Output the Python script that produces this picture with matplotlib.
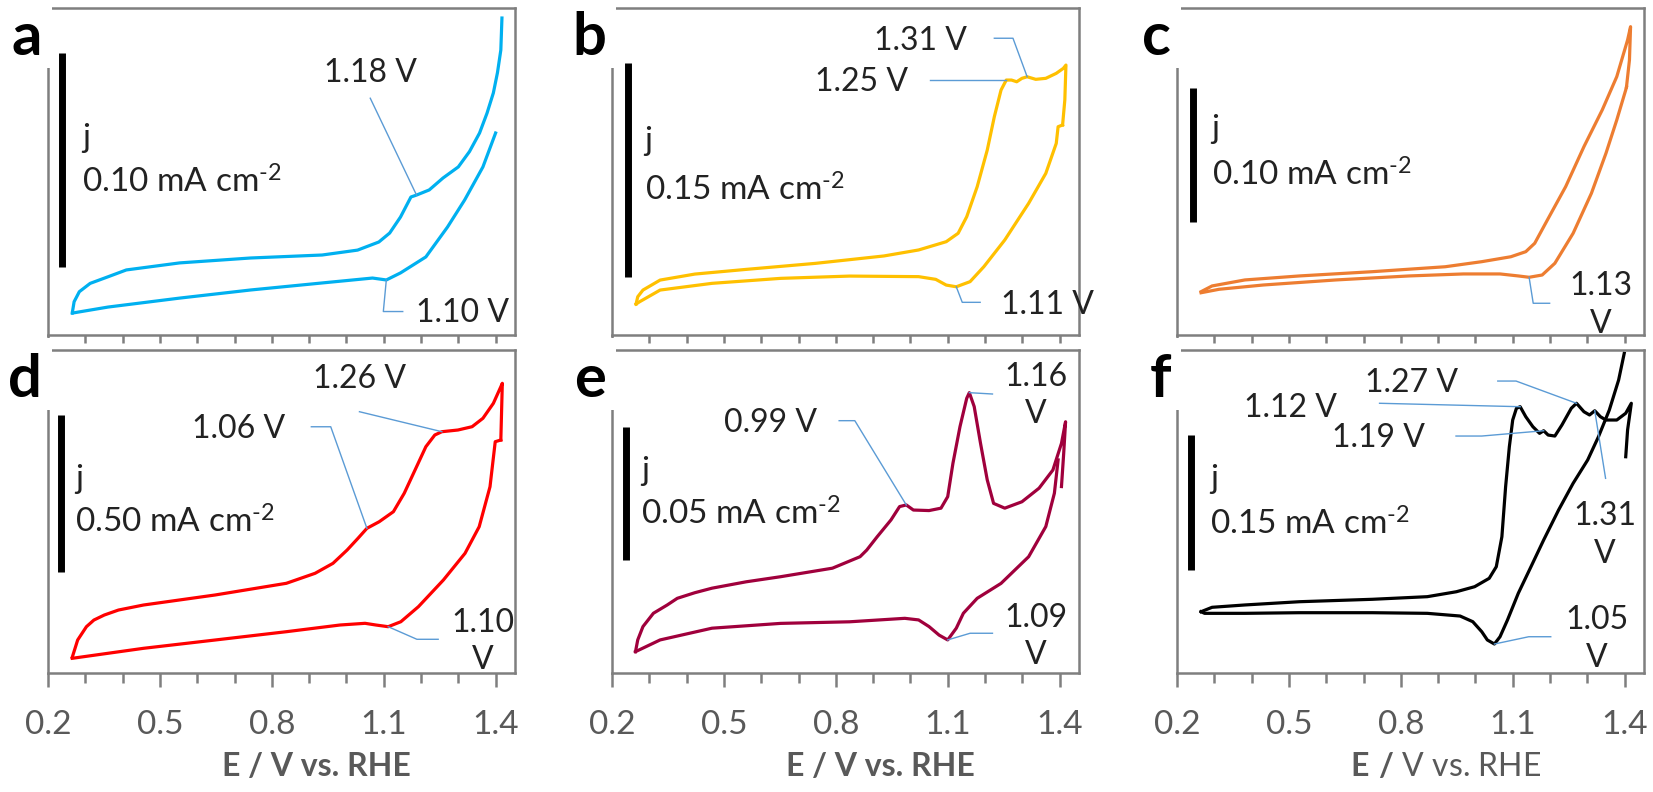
import numpy as np
import matplotlib
matplotlib.use('Agg')
import matplotlib.pyplot as plt
from matplotlib.ticker import MultipleLocator
from matplotlib.patches import Rectangle

plt.rcParams['font.family'] = ['Lato', 'DejaVu Sans']
plt.rcParams['mathtext.fontset'] = 'custom'
plt.rcParams['mathtext.rm'] = 'Lato'
plt.rcParams['mathtext.bf'] = 'Lato:bold'
plt.rcParams['mathtext.default'] = 'regular'

# ---------------- data (E in V vs. RHE, j in mA cm-2) ----------------
a_fwd_E = [0.265, 0.270, 0.284, 0.313, 0.361, 0.410, 0.553, 0.743, 0.935, 1.030, 1.087, 1.116,
           1.145, 1.173, 1.188, 1.222, 1.259, 1.300, 1.330, 1.357, 1.377, 1.394, 1.405, 1.414, 1.417]
a_fwd_j = [0.0103, 0.0156, 0.0203, 0.0242, 0.0273, 0.0305, 0.0338, 0.0361, 0.0375, 0.0398, 0.0436, 0.0478,
           0.0553, 0.0647, 0.0656, 0.0680, 0.0736, 0.0788, 0.0860, 0.0947, 0.1040, 0.1135, 0.1230, 0.1336, 0.1486]
a_rev_E = [1.400, 1.366, 1.317, 1.271, 1.213, 1.145, 1.107, 1.070, 0.935, 0.743, 0.553, 0.361, 0.266]
a_rev_j = [0.0947, 0.0788, 0.0633, 0.0506, 0.0366, 0.0291, 0.0258, 0.0267, 0.0244, 0.0211, 0.0173, 0.0131, 0.0103]

b_fwd_E = [0.2645, 0.269, 0.283, 0.329, 0.422, 0.560, 0.745, 0.929, 1.022, 1.096, 1.128, 1.151, 1.179, 1.206,
           1.225, 1.243, 1.257, 1.271, 1.285, 1.299, 1.313, 1.336, 1.363, 1.391, 1.410, 1.417, 1.414, 1.408]
b_fwd_j = [0.0217, 0.0268, 0.0315, 0.0385, 0.0427, 0.0460, 0.0502, 0.0554, 0.0596, 0.0654, 0.0713, 0.0829, 0.1039, 0.1296,
           0.1530, 0.1717, 0.1787, 0.1787, 0.1775, 0.1799, 0.1810, 0.1792, 0.1799, 0.1834, 0.1869, 0.1892, 0.1647, 0.1472]
b_rev_E = [1.408, 1.396, 1.391, 1.363, 1.317, 1.253, 1.197, 1.160, 1.123, 1.096, 1.068, 1.022, 0.837, 0.652,
           0.468, 0.329, 0.274, 0.2645]
b_rev_j = [0.1472, 0.1460, 0.1343, 0.1133, 0.0923, 0.0666, 0.0479, 0.0374, 0.0338, 0.0350, 0.0390, 0.0409, 0.0413, 0.0397,
           0.0362, 0.0315, 0.0233, 0.0217]

c_fwd_E = [0.2645, 0.294, 0.382, 0.528, 0.724, 0.919, 1.017, 1.095, 1.135, 1.159, 1.193, 1.242, 1.291,
           1.340, 1.379, 1.408, 1.416, 1.413, 1.405]
c_fwd_j = [0.0325, 0.0368, 0.0413, 0.0443, 0.0475, 0.0512, 0.0550, 0.0587, 0.0625, 0.0688, 0.0863, 0.1113, 0.1413,
           0.1688, 0.1938, 0.2213, 0.2313, 0.2063, 0.1860]
c_rev_E = [1.405, 1.403, 1.379, 1.350, 1.311, 1.262, 1.213, 1.179, 1.144, 1.115, 1.066, 0.968, 0.822, 0.626,
           0.431, 0.313, 0.2645]
c_rev_j = [0.1860, 0.1838, 0.1613, 0.1363, 0.1063, 0.0763, 0.0538, 0.0450, 0.0433, 0.0443, 0.0458, 0.0458, 0.0443, 0.0413,
           0.0375, 0.0343, 0.0317]

d_fwd_E = [0.265, 0.2795, 0.303, 0.323, 0.351, 0.389, 0.456, 0.648, 0.839, 0.916, 0.964, 1.002, 1.031, 1.055, 1.088,
           1.126, 1.155, 1.184, 1.213, 1.237, 1.256, 1.299, 1.337, 1.366, 1.394, 1.414, 1.418, 1.414]
d_fwd_j = [0.0501, 0.1053, 0.1478, 0.1690, 0.1851, 0.2010, 0.2170, 0.2490, 0.2863, 0.3182, 0.3501, 0.3926, 0.4299, 0.4618,
           0.4829, 0.5149, 0.5736, 0.6479, 0.7223, 0.7597, 0.7702, 0.7756, 0.7862, 0.8130, 0.8608, 0.9138, 0.9247, 0.7437]
d_rev_E = [1.414, 1.399, 1.385, 1.356, 1.318, 1.260, 1.193, 1.146, 1.112, 1.079, 1.050, 0.983, 0.839, 0.648,
           0.456, 0.265]
d_rev_j = [0.7437, 0.7383, 0.5946, 0.4670, 0.3820, 0.2968, 0.2116, 0.1637, 0.1478, 0.1532, 0.1586, 0.1532, 0.1318, 0.1053,
           0.0788, 0.0469]

e_fwd_E = [0.263, 0.269, 0.283, 0.311, 0.348, 0.375, 0.422, 0.468, 0.560, 0.652, 0.791, 0.865, 0.883, 0.911, 0.948,
           0.971, 0.989, 1.008, 1.050, 1.082, 1.100, 1.114, 1.133, 1.151, 1.158, 1.171, 1.188, 1.206, 1.223, 1.253,
           1.299, 1.345, 1.382, 1.405, 1.416, 1.411, 1.405]
e_fwd_j = [0.0080, 0.0124, 0.0174, 0.0224, 0.0255, 0.0280, 0.0301, 0.0318, 0.0342, 0.0361, 0.0393, 0.0436, 0.0461, 0.0511,
           0.0574, 0.0624, 0.0630, 0.0611, 0.0609, 0.0618, 0.0661, 0.0786, 0.0924, 0.1030, 0.1051, 0.0999, 0.0861, 0.0724,
           0.0636, 0.0618, 0.0642, 0.0693, 0.0761, 0.0861, 0.0942, 0.0824, 0.0699]
e_rev_E = [1.396, 1.386, 1.363, 1.317, 1.243, 1.179, 1.142, 1.123, 1.100, 1.077, 1.050, 1.022, 0.985, 0.837,
           0.652, 0.468, 0.329, 0.263]
e_rev_j = [0.0799, 0.0674, 0.0549, 0.0436, 0.0336, 0.0280, 0.0224, 0.0168, 0.0124, 0.0142, 0.0174, 0.0199, 0.0205, 0.0192,
           0.0186, 0.0168, 0.0124, 0.0080]

f_fwd_E = [0.2645, 0.294, 0.382, 0.528, 0.724, 0.871, 0.949, 0.998, 1.037, 1.056, 1.071, 1.081, 1.091, 1.100,
           1.110, 1.120, 1.135, 1.154, 1.172, 1.183, 1.195, 1.213, 1.232, 1.257, 1.271, 1.291, 1.306, 1.320,
           1.335, 1.350, 1.379, 1.403, 1.418, 1.408, 1.403]
f_fwd_j = [0.0681, 0.0730, 0.0756, 0.0792, 0.0819, 0.0848, 0.0903, 0.0959, 0.1052, 0.1181, 0.1514, 0.2070, 0.2514, 0.2811,
           0.2941, 0.2959, 0.2848, 0.2737, 0.2663, 0.2692, 0.2644, 0.2633, 0.2756, 0.2941, 0.2997, 0.2903, 0.2867, 0.2914,
           0.2848, 0.2811, 0.2811, 0.2886, 0.2997, 0.2700, 0.2403]
f_rev_E = [1.399, 1.384, 1.359, 1.330, 1.301, 1.262, 1.223, 1.183, 1.149, 1.115, 1.086, 1.066, 1.051, 1.032,
           1.017, 0.993, 0.959, 0.871, 0.724, 0.528, 0.382, 0.274, 0.2645]
f_rev_j = [0.3552, 0.3256, 0.2922, 0.2626, 0.2367, 0.2108, 0.1811, 0.1478, 0.1181, 0.0886, 0.0589, 0.0403, 0.0322, 0.0367,
           0.0459, 0.0570, 0.0633, 0.0663, 0.0670, 0.0670, 0.0663, 0.0663, 0.0681]

x_ticks = [0.2, 0.5, 0.8, 1.1, 1.4]
x_tick_labels = ['0.2', '0.5', '0.8', '1.1', '1.4']
scale_values = ['0.10', '0.15', '0.10', '0.50', '0.05', '0.15']

# ---------------- layout ----------------
W, H = 1653, 792
col_left = [48, 612, 1177]
col_w = 467
rows = [(8, 335), (350, 673)]
GRAY = '#7F7F7F'
LEAD = '#5B9BD5'
TXT = '#222222'

# per panel: letter, data, colour, y top, scale bar (E, j bottom, length), j-label pos, notes
# notes: (text, text E, text j, leader elbows, branch, E where leader meets curve)
panels = [
    dict(letter='a', fwd=(a_fwd_E, a_fwd_j), rev=(a_rev_E, a_rev_j), color='#00B0F0', top=0.1533,
         bar=(0.238, 0.032, 0.10), lab=(0.291, 0.0881, 0.0666),
         notes=[('1.18 V', 1.064, 0.1228, [(1.064, 0.111)], 'f', 1.188),
                ('1.10 V', 1.31, 0.0105, [(1.151, 0.0110), (1.099, 0.0110)], 'r', 1.107)]),
    dict(letter='b', fwd=(b_fwd_E, b_fwd_j), rev=(b_rev_E, b_rev_j), color='#FFC000', top=0.2292,
         bar=(0.2416, 0.0404, 0.15), lab=(0.2876, 0.1296, 0.0939),
         notes=[('1.31 V', 1.028, 0.206, [(1.225, 0.208), (1.275, 0.208)], 'f', 1.313),
                ('1.25 V', 0.870, 0.1773, [(1.053, 0.1787)], 'f', 1.257),
                ('1.11 V', 1.367, 0.021, [(1.187, 0.0229), (1.139, 0.0229)], 'r', 1.123)]),
    dict(letter='c', fwd=(c_fwd_E, c_fwd_j), rev=(c_rev_E, c_rev_j), color='#ED7D31', top=0.2453,
         bar=(0.243, 0.085, 0.10), lab=(0.293, 0.1478, 0.1118),
         notes=[('1.13\nV', 1.336, 0.0225, [(1.199, 0.0238), (1.155, 0.0238)], 'r', 1.144)]),
    dict(letter='d', fwd=(d_fwd_E, d_fwd_j), rev=(d_rev_E, d_rev_j), color='#FF0000', top=1.031,
         bar=(0.234, 0.3233, 0.50), lab=(0.272, 0.5905, 0.4469),
         notes=[('1.26 V', 1.035, 0.938, [(1.035, 0.834)], 'f', 1.256),
                ('1.06 V', 0.710, 0.779, [(0.906, 0.786), (0.958, 0.786)], 'f', 1.055),
                ('1.10\nV', 1.366, 0.1005, [(1.246, 0.1076), (1.189, 0.1076)], 'r', 1.112)]),
    dict(letter='e', fwd=(e_fwd_E, e_fwd_j), rev=(e_rev_E, e_rev_j), color='#A0003C', top=0.1211,
         bar=(0.237, 0.0424, 0.05), lab=(0.2785, 0.0724, 0.0555),
         notes=[('0.99 V', 0.624, 0.0937, [(0.809, 0.0946), (0.851, 0.0946)], 'f', 0.989),
                ('1.16\nV', 1.336, 0.1040, [(1.220, 0.1046)], 'f', 1.158),
                ('1.09\nV', 1.336, 0.0137, [(1.220, 0.0149), (1.160, 0.0149)], 'r', 1.100)]),
    dict(letter='f', fwd=(f_fwd_E, f_fwd_j), rev=(f_rev_E, f_rev_j), color='#000000', top=0.3589,
         bar=(0.237, 0.1144, 0.15), lab=(0.288, 0.2056, 0.1533),
         notes=[('1.27 V', 0.830, 0.322, [(1.060, 0.3244), (1.109, 0.3244)], 'f', 1.271),
                ('1.12 V', 0.504, 0.2944, [(0.743, 0.2997)], 'f', 1.120),
                ('1.19 V', 0.739, 0.2611, [(0.948, 0.2633), (1.017, 0.2633)], 'f', 1.183),
                ('1.31\nV', 1.346, 0.1533, [(1.349, 0.2163)], 'f', 1.320),
                ('1.05\nV', 1.325, 0.0378, [(1.202, 0.0403), (1.143, 0.0403)], 'r', 1.051)]),
]

fig = plt.figure(figsize=(W / 100, H / 100), dpi=100)

for i, p in enumerate(panels):
    r, c = divmod(i, 3)
    top, bot = rows[r]
    left = col_left[c]
    ax = fig.add_axes([left / W, 1 - bot / H, col_w / W, (bot - top) / H])
    ax.set_xlim(0.2, 1.452)
    ax.set_ylim(0, p['top'])
    ax.set_yticks([])

    for s in ax.spines.values():
        s.set_color(GRAY)
        s.set_linewidth(1.8)

    # x ticks, every 0.1 with the long ones every 0.3
    ax.xaxis.set_minor_locator(MultipleLocator(0.1))
    if r == 1:
        ax.set_xticks(x_ticks, labels=x_tick_labels)
        ax.tick_params(axis='x', which='major', length=10, width=1.8, color=GRAY, direction='out',
                       labelsize=24, labelcolor='#595959', pad=17)
        ax.tick_params(axis='x', which='minor', length=7, width=1.8, color=GRAY, direction='out')
        if c == 2:
            ax.set_xlabel(r'$\mathbf{E\ /}$ V vs. RHE', fontsize=23, color='#595959')
        else:
            ax.set_xlabel('E / V vs. RHE', fontsize=23, color='#595959', fontweight='bold')
        ax.xaxis.set_label_coords(0.575, -0.245)
    else:
        ax.set_xticks(x_ticks, labels=[])
        ax.tick_params(axis='x', which='major', length=6, width=1.8, color=GRAY, direction='out')
        ax.tick_params(axis='x', which='minor', length=6, width=1.8, color=GRAY, direction='out')

    # CV curves
    fE, fj = p['fwd']
    rE, rj = p['rev']
    ax.plot(fE, fj, color=p['color'], lw=2.3, solid_joinstyle='round')
    ax.plot(rE, rj, color=p['color'], lw=2.3, solid_joinstyle='round')

    # scale bar
    bx, by, bl = p['bar']
    ax.plot([bx, bx], [by, by + bl], color='black', lw=5, solid_capstyle='butt')
    lx, ly1, ly2 = p['lab']
    ax.text(lx, ly1, 'j', fontsize=24, color=TXT, ha='left', va='baseline')
    ax.text(lx, ly2, scale_values[i] + r' mA cm$^{\text{-}2}$', fontsize=24, color=TXT,
            ha='left', va='baseline')

    # peak labels with leader lines
    for txt, tx, ty, elbows, br, tE in p['notes']:
        E, j = (fE, fj) if br == 'f' else (rE, rj)
        k = int(np.argmin(np.abs(np.array(E) - tE)))
        px = [q[0] for q in elbows] + [E[k]]
        py = [q[1] for q in elbows] + [j[k]]
        ax.plot(px, py, color=LEAD, lw=1.0, zorder=3)
        ax.text(tx, ty, txt, fontsize=23, color=TXT, ha='center', va='center', linespacing=1.3)

    # panel letter sits on a white box that hides the frame corner
    fig.add_artist(Rectangle(((left - 46) / W, 1 - (top + 60) / H), 50 / W, 72 / H,
                             transform=fig.transFigure, facecolor='white', edgecolor='none', zorder=5))
    fig.text((left - 6) / W, 1 - (top + 47) / H, p['letter'], fontsize=43, fontweight='bold',
             color='black', ha='right', va='baseline', zorder=6)

fig.savefig('out.png', dpi=100)
